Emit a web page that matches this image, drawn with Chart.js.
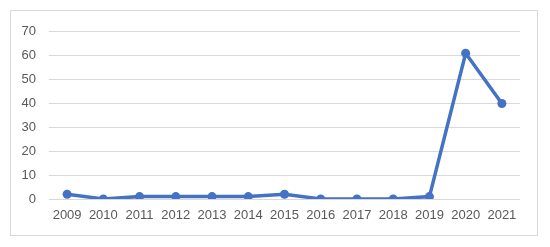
<!DOCTYPE html>
<html>
<head>
<meta charset="utf-8">
<script src="https://cdn.jsdelivr.net/npm/chart.js@4"></script>
<style>
  html, body { margin: 0; padding: 0; background: #fff; }
  .frame {
    position: absolute; left: 10px; top: 10px;
    width: 526px; height: 224px;
    border: 1px solid #d9d9d9;
  }
</style>
</head>
<body>
<div class="frame"><canvas id="chart"></canvas></div>
<script>
const years = ["2009", "2010", "2011", "2012", "2013", "2014", "2015", "2016", "2017", "2018", "2019", "2020", "2021"];
const counts = [2, 0, 1, 1, 1, 1, 2, 0, 0, 0, 1, 61, 40];
const yTicks = [0, 10, 20, 30, 40, 50, 60, 70];

const blue = "#4472C4";
const grey = "#595959";

new Chart(document.getElementById("chart"), {
  type: "line",
  data: {
    labels: years,
    datasets: [
      {
        data: counts,
        borderColor: blue,
        backgroundColor: blue,
        borderWidth: 3.5,
        pointRadius: 4.5,
        pointBackgroundColor: blue,
        pointBorderWidth: 0,
        tension: 0,
      },
    ],
  },
  options: {
    responsive: true,
    maintainAspectRatio: false,
    animation: false,
    layout: { padding: { top: 17, right: 17, left: 0, bottom: 0 } },
    plugins: {
      legend: { display: false },
      tooltip: { enabled: false },
    },
    scales: {
      x: {
        offset: true,
        grid: { display: false, drawTicks: false },
        border: { display: false },
        ticks: { color: grey, font: { family: "Liberation Sans", size: 13 }, padding: 9, maxRotation: 0, autoSkip: false },
        afterFit: (s) => { s.height = 36; },
      },
      y: {
        min: yTicks[0],
        max: yTicks[yTicks.length - 1],
        afterBuildTicks: (s) => { s.ticks = yTicks.map((v) => ({ value: v })); },
        grid: { color: "#d9d9d9", lineWidth: 1, drawTicks: false },
        border: { display: false },
        ticks: { color: grey, font: { family: "Liberation Sans", size: 13 }, padding: 13 },
        afterFit: (s) => { s.width = 38; },
      },
    },
  },
});
</script>
</body>
</html>
